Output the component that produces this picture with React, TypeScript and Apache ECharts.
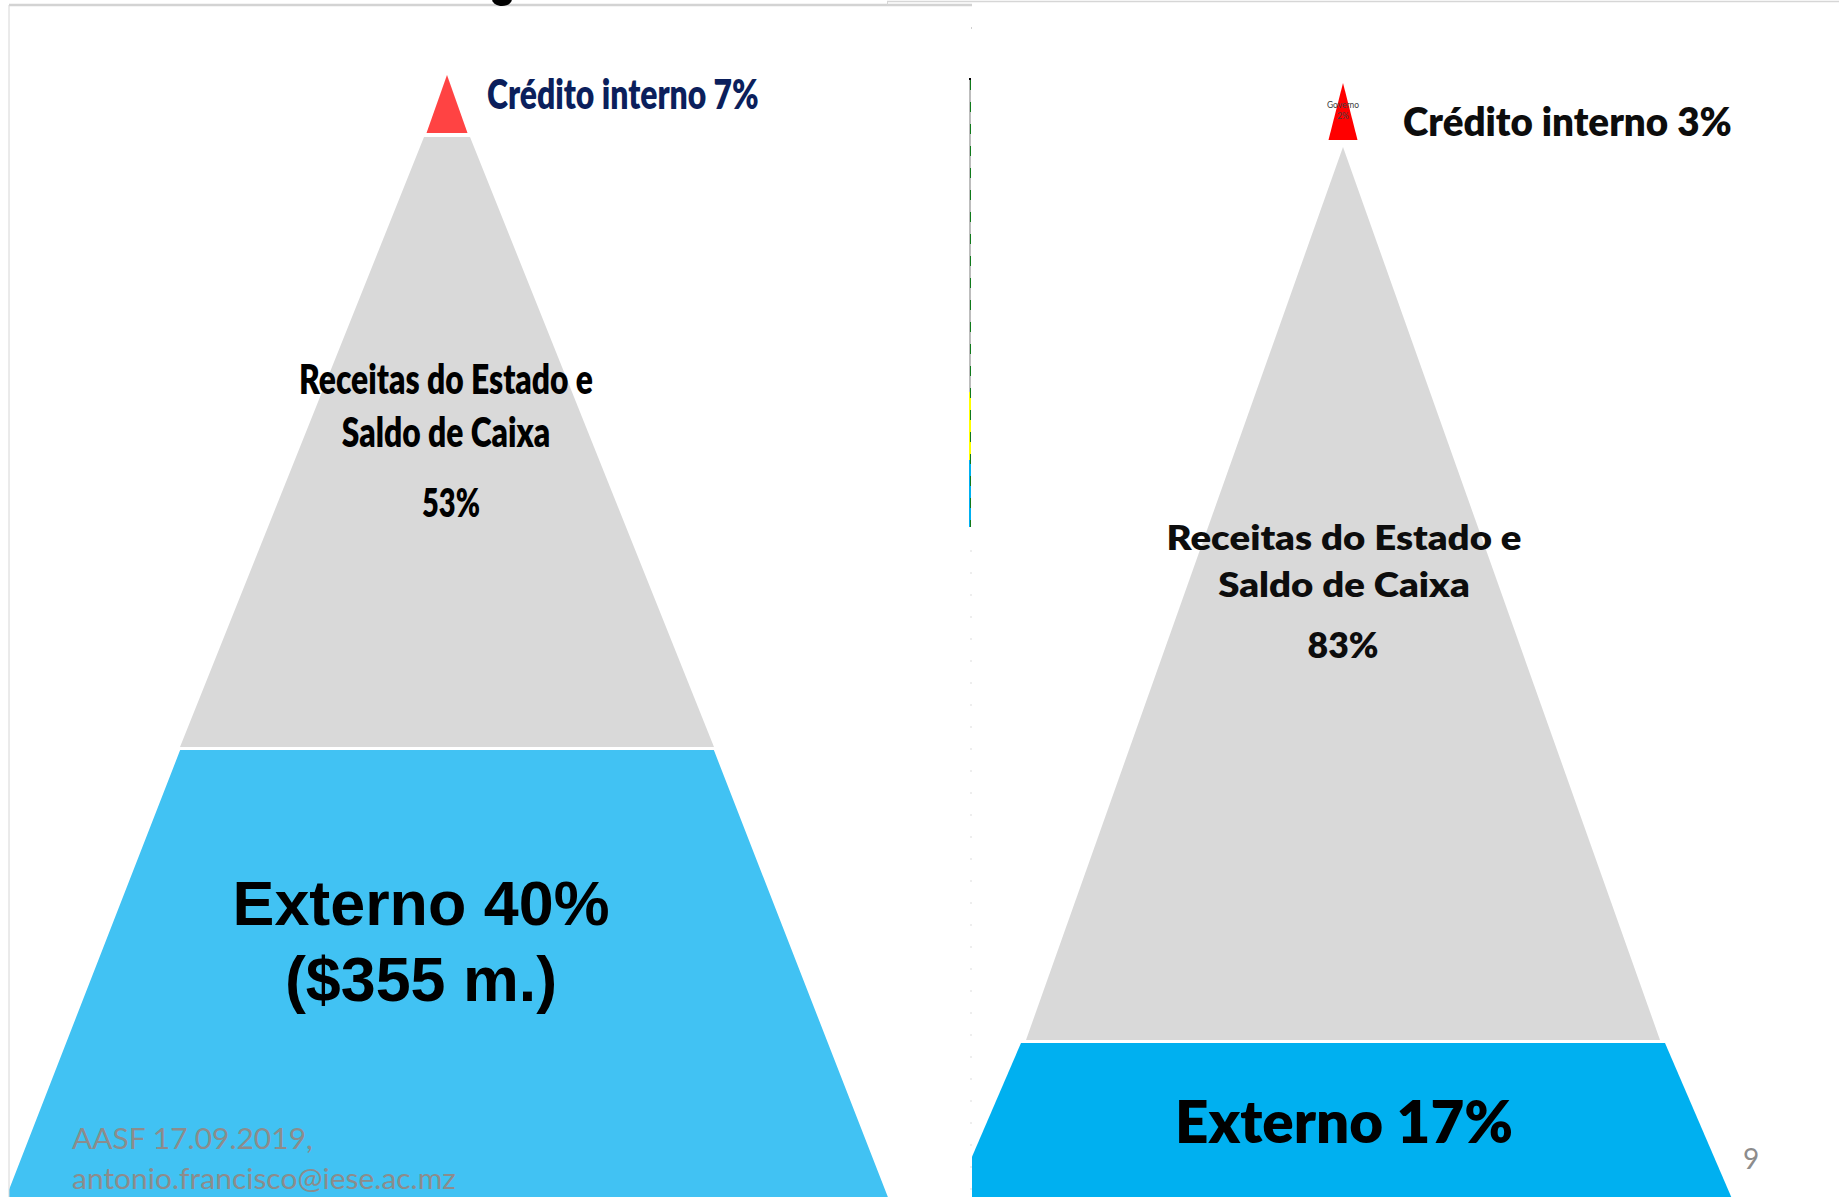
import React, { useEffect, useRef } from "react";
import * as echarts from "echarts";

// ---------------- Data ----------------
const leftCategories = ["Crédito interno", "Receitas do Estado e\nSaldo de Caixa", "Externo"];
const leftShares = [7, 53, 40];
const leftExternalAmount = "$355 m.";
// pyramid geometry: depth below apex (start/end) and half-width (top/bottom), chart units
const leftDepthStart = [0, 62, 674];
const leftDepthEnd = [58, 672, 1135];
const leftHalfWidthTop = [0, 23, 267.5];
const leftHalfWidthBottom = [20.5, 267, 447];

const rightCategories = ["Crédito interno", "Receitas do Estado e\nSaldo de Caixa", "Externo"];
const rightShares = [3, 83, 17];
const rightInnerCategory = "Governo";
const rightInnerShare = 2;
const rightDepthStart = [0, 64, 960];
const rightDepthEnd = [57, 957, 1125];
const rightHalfWidthTop = [0, 0, 322];
const rightHalfWidthBottom = [14.5, 317, 393];

const footerLines = ["AASF 17.09.2019,", "antonio.francisco@iese.ac.mz"];
const pageNumber = "9";

// ---------------- Styles / layout ----------------
const CAL = "Lato, 'Open Sans', sans-serif";
const ARIAL = "'Liberation Sans', Arial, sans-serif";
const HEAVY = "800";

let measureCtx: CanvasRenderingContext2D | null = null;
function fitScale(text: string, weight: string, size: number, family: string, target: number) {
  if (!measureCtx) measureCtx = document.createElement("canvas").getContext("2d");
  if (!measureCtx) return 1;
  measureCtx.font = `${weight} ${size}px ${family}`;
  const w = Math.max(...text.split("\n").map((l) => measureCtx!.measureText(l).width));
  return w > 0 ? target / w : 1;
}

type Lbl = {
  text: string; dx: number; depth: number; align: string; size: number; family: string;
  weight: string; color: string; lineHeight?: number; width: number;
};

function prepare(l: Lbl) {
  return { ...l, scaleX: fitScale(l.text, l.weight, l.size, l.family, l.width) };
}

function buildRenderItem(fills: string[], strokes: (string | null)[], labels: any[][]) {
  return function (params: any, api: any) {
    const i = params.dataIndex;
    const d0 = api.value(0), d1 = api.value(1), w0 = api.value(2), w1 = api.value(3);
    const pts: number[][] = [];
    if (w0 > 0) {
      pts.push(api.coord([-w0, d0]), api.coord([w0, d0]));
    } else {
      pts.push(api.coord([0, d0]));
    }
    pts.push(api.coord([w1, d1]), api.coord([-w1, d1]));
    const children: any[] = [
      {
        type: "polygon",
        shape: { points: pts },
        style: strokes[i]
          ? { fill: fills[i], stroke: strokes[i], lineWidth: 2 }
          : { fill: fills[i] },
      },
    ];
    for (const lb of labels[i]) {
      const p = api.coord([lb.dx, lb.depth]);
      children.push({
        type: "text",
        x: p[0],
        y: p[1],
        scaleX: lb.scaleX,
        style: {
          text: lb.text,
          fill: lb.color,
          fontSize: lb.size,
          fontFamily: lb.family,
          fontWeight: lb.weight,
          align: lb.align,
          verticalAlign: "middle",
          lineHeight: lb.lineHeight || lb.size * 1.2,
        },
      });
    }
    return { type: "group", children };
  };
}

export default function App() {
  const ref = useRef<HTMLDivElement>(null);
  useEffect(() => {
    if (!ref.current) return;
    const chart = echarts.init(ref.current, null, { renderer: "svg" });

    const leftLabels = [
      [prepare({ text: `${leftCategories[0]} ${leftShares[0]}%`, dx: 40, depth: 18, align: "left", size: 42, family: CAL, weight: HEAVY, color: "#0b1f5c", width: 272 })],
      [
        prepare({ text: leftCategories[1], dx: -1, depth: 329, align: "center", size: 42, family: CAL, weight: HEAVY, color: "#000000", lineHeight: 53, width: 294 }),
        prepare({ text: `${leftShares[1]}%`, dx: 4, depth: 427, align: "center", size: 40, family: CAL, weight: HEAVY, color: "#000000", width: 58 }),
      ],
      [prepare({ text: `${leftCategories[2]} ${leftShares[2]}%\n(${leftExternalAmount})`, dx: -26, depth: 866, align: "center", size: 63, family: ARIAL, weight: "bold", color: "#000000", lineHeight: 76, width: 377 })],
    ];
    const rightLabels = [
      [
        prepare({ text: `${rightCategories[0]} ${rightShares[0]}%`, dx: 60, depth: 38, align: "left", size: 39, family: CAL, weight: HEAVY, color: "#0d0d0d", width: 329 }),
        prepare({ text: `${rightInnerCategory}\n${rightInnerShare}%`, dx: 0, depth: 26.5, align: "center", size: 9, family: CAL, weight: "normal", color: "#404040", lineHeight: 11, width: 32 }),
      ],
      [
        prepare({ text: rightCategories[1], dx: 1, depth: 477, align: "center", size: 34, family: CAL, weight: HEAVY, color: "#0d0d0d", lineHeight: 47, width: 355 }),
        prepare({ text: `${rightShares[1]}%`, dx: 0, depth: 562, align: "center", size: 35, family: CAL, weight: HEAVY, color: "#0d0d0d", width: 71 }),
      ],
      [prepare({ text: `${rightCategories[2]} ${rightShares[2]}%`, dx: 1, depth: 1038, align: "center", size: 58, family: CAL, weight: HEAVY, color: "#000000", width: 338 })],
    ];

    const leftData = leftDepthStart.map((_, i) => [leftDepthStart[i], leftDepthEnd[i], leftHalfWidthTop[i], leftHalfWidthBottom[i]]);
    const rightData = rightDepthStart.map((_, i) => [rightDepthStart[i], rightDepthEnd[i], rightHalfWidthTop[i], rightHalfWidthBottom[i]]);

    const footerText = footerLines.join("\n");
    const footerScale = fitScale(footerText, "normal", 28, CAL, 384);

    const option: any = {
      animation: false,
      backgroundColor: "#ffffff",
      grid: [
        { left: 9, top: 0, width: 963, height: 1197, show: false },
        { left: 972, top: 0, width: 867, height: 1197, show: false },
      ],
      xAxis: [
        { type: "value", gridIndex: 0, min: -438, max: 525, show: false },
        { type: "value", gridIndex: 1, min: -371, max: 496, show: false },
      ],
      yAxis: [
        { type: "value", gridIndex: 0, min: -75, max: 1122, inverse: true, show: false },
        { type: "value", gridIndex: 1, min: -83, max: 1114, inverse: true, show: false },
      ],
      series: [
        {
          type: "custom",
          name: "left",
          xAxisIndex: 0,
          yAxisIndex: 0,
          clip: true,
          silent: true,
          renderItem: buildRenderItem(["#ff4343", "#d9d9d9", "#41c2f3"], [null, null, "#ffffff"], leftLabels),
          data: leftData,
        },
        {
          type: "custom",
          name: "right",
          xAxisIndex: 1,
          yAxisIndex: 1,
          clip: true,
          silent: true,
          renderItem: buildRenderItem(["#ff0000", "#d9d9d9", "#00b0f0"], [null, null, null], rightLabels),
          data: rightData,
        },
      ],
      graphic: [
        // frame lines
        { type: "line", z: 50, shape: { x1: 9, y1: 5, x2: 972, y2: 5 }, style: { stroke: "#d3d3d3", lineWidth: 2.5 } },
        { type: "line", z: 50, shape: { x1: 9, y1: 5, x2: 9, y2: 1197 }, style: { stroke: "#d6d6d6", lineWidth: 1 } },
        { type: "line", z: 50, shape: { x1: 887, y1: 1.5, x2: 1839, y2: 1.5 }, style: { stroke: "#d6d6d6", lineWidth: 1.5 } },
        { type: "line", z: 50, shape: { x1: 887.5, y1: 1, x2: 887.5, y2: 5 }, style: { stroke: "#d6d6d6", lineWidth: 1 } },
        { type: "rect", z: 50, shape: { x: 971, y: 27, width: 1, height: 2 }, style: { fill: "#d0d0d0" } },
        // divider
        { type: "rect", z: 50, shape: { x: 969, y: 78, width: 2, height: 314 }, style: { fill: "#bdbdbd" } },
        { type: "rect", z: 50, shape: { x: 969, y: 392, width: 2, height: 68 }, style: { fill: "#ffff00" } },
        { type: "rect", z: 50, shape: { x: 969, y: 460, width: 2, height: 67 }, style: { fill: "#00b0f0" } },
        { type: "rect", z: 51, shape: { x: 969, y: 78, width: 2, height: 2 }, style: { fill: "#000000" } },
        { type: "line", z: 51, shape: { x1: 970.5, y1: 80, x2: 970.5, y2: 527 }, style: { stroke: "#0f7a1a", lineWidth: 1, lineDash: [10, 12] } },
        { type: "line", z: 50, shape: { x1: 971, y1: 550, x2: 971, y2: 1190 }, style: { stroke: "#dddddd", lineWidth: 1, lineDash: [2, 20] } },
        // cut-off title descender blob
        { type: "ellipse", z: 52, shape: { cx: 502, cy: -1, rx: 10, ry: 7 }, style: { fill: "#000000" } },
        // footer
        { type: "text", z: 60, x: 72, y: 1158, scaleX: footerScale, style: { text: footerText, fill: "#8c8c8c", fontSize: 28, fontFamily: CAL, align: "left", verticalAlign: "middle", lineHeight: 40 } },
        { type: "text", z: 60, x: 1751, y: 1158, style: { text: pageNumber, fill: "#8c8c8c", fontSize: 28, fontFamily: CAL, align: "center", verticalAlign: "middle" } },
      ],
    };
    chart.setOption(option);
    return () => chart.dispose();
  }, []);
  return (
    <div
      ref={ref}
      style={{ position: "absolute", left: 0, top: 0, width: 1839, height: 1197, background: "#ffffff" }}
    />
  );
}
